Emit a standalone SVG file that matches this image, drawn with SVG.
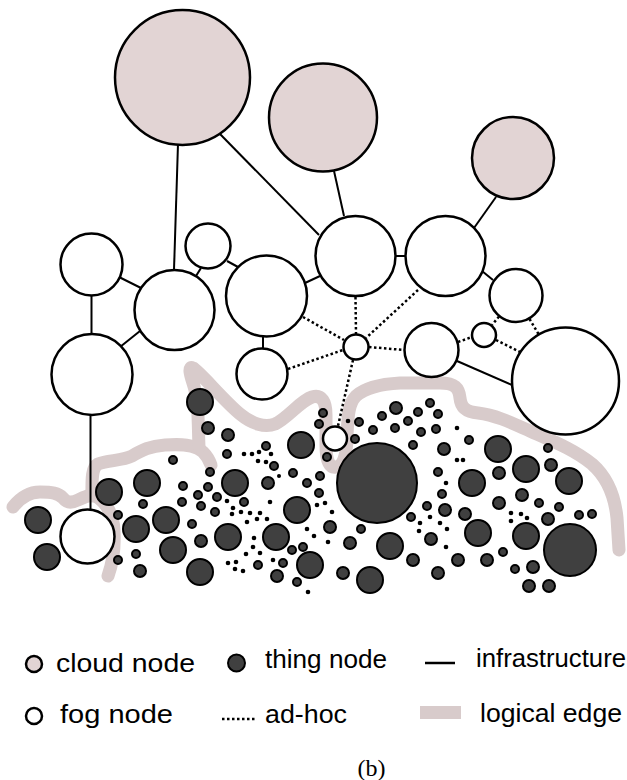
<svg xmlns="http://www.w3.org/2000/svg" width="627" height="780" viewBox="0 0 627 780">
  <style>
    .cloud { fill: #e2d4d4; stroke: #000; stroke-width: 2.5; }
    .fog { fill: #fff; stroke: #000; stroke-width: 2.5; }
    .thing { fill: #404040; stroke: #000; stroke-width: 2; }
    .dot { fill: #000; }
    .infra { stroke: #000; stroke-width: 2; fill: none; }
    .adhoc { stroke: #000; stroke-width: 2.5; stroke-dasharray: 2.5 2.5; fill: none; }
    .logical { fill: none; stroke: #d8cbcb; stroke-width: 13; stroke-linecap: round; stroke-linejoin: round; }
    .lbl { font-family: "Liberation Sans", Arial, sans-serif; font-size: 26px; fill: #000; }
    .cap { font-family: "Liberation Serif", "Times New Roman", serif; font-size: 24px; fill: #000; }
  </style>
  <rect width="627" height="780" fill="#fff"/>

  <!-- logical edge band -->
  <g id="logical-edge">
    <path class="logical" d="M13,507 C20,498 28,492 40,492 C52,492 58,493 63,498 C67,503 72,503 78,500 C84,497 90,494 95,496 C104,500 113,512 114,530 C115,548 112,565 108,576"/>
    <path class="logical" d="M92,496 C92,482 91,468 98,464 C108,460 122,461 132,456 C142,450 150,446 165,445 C180,444 195,444 203,452 C208,457 210,462 211,465"/>
    <path class="logical" d="M199,447 C198,425 199,400 193,383 C190,374 188,366 193,368 C200,372 225,402 240,414 C252,424 265,428 275,424 C288,418 300,401 312,397 C322,394 326,402 326,415 L326,445 C326,462 330,468 336,467 C345,466 347,450 347,435 C348,418 348,404 356,396 C366,387 382,384 400,383 L440,383 C455,383 459,388 460,398 C461,408 466,412 478,413 C495,415 510,422 530,431 C555,442 575,450 592,464 C608,478 615,498 617,518 L619,550"/>
  </g>

  <!-- connectors -->
  <g id="connectors">
    <line class="infra" x1="178" y1="144" x2="174" y2="270"/>
    <line class="infra" x1="220" y1="134" x2="319" y2="235"/>
    <line class="infra" x1="334" y1="171" x2="344" y2="216"/>
    <line class="infra" x1="496" y1="197" x2="474" y2="228"/>
    <line class="infra" x1="119" y1="277" x2="141" y2="288"/>
    <line class="infra" x1="91.5" y1="296" x2="91.5" y2="334"/>
    <line class="infra" x1="120" y1="347" x2="140" y2="331"/>
    <line class="infra" x1="196" y1="276" x2="201" y2="268"/>
    <line class="infra" x1="227" y1="261" x2="238" y2="267"/>
    <line class="infra" x1="305" y1="283" x2="320" y2="276"/>
    <line class="infra" x1="395" y1="256" x2="406" y2="256" stroke-width="3"/>
    <line class="infra" x1="482" y1="271" x2="493" y2="280"/>
    <line class="infra" x1="263" y1="337" x2="263" y2="348"/>
    <line class="infra" x1="457" y1="361" x2="512" y2="385"/>
    <line class="infra" x1="90.5" y1="415" x2="90.5" y2="509"/>

    <line class="adhoc" x1="303" y1="317" x2="344" y2="340"/>
    <line class="adhoc" x1="355.5" y1="297" x2="356" y2="334"/>
    <line class="adhoc" x1="418" y1="290" x2="366" y2="338"/>
    <line class="adhoc" x1="288" y1="369" x2="343" y2="350"/>
    <line class="adhoc" x1="369" y1="347" x2="404" y2="350"/>
    <line class="adhoc" x1="353" y1="360" x2="338" y2="426"/>
    <line class="adhoc" x1="458" y1="342" x2="472" y2="337"/>
    <line class="adhoc" x1="496" y1="340" x2="520" y2="352"/>
    <line class="adhoc" x1="499" y1="316.5" x2="492" y2="325"/>
    <line class="adhoc" x1="529.5" y1="319" x2="538.5" y2="334"/>
  </g>

  <!-- cloud nodes -->
  <g id="cloud1"><circle class="cloud" cx="182.5" cy="77.5" r="67.5"/></g>
  <g id="cloud2"><circle class="cloud" cx="323" cy="117.5" r="54"/></g>
  <g id="cloud3"><circle class="cloud" cx="513" cy="158" r="41"/></g>

  <!-- fog nodes -->
  <g id="fog1"><circle class="fog" cx="91.5" cy="264.5" r="31"/></g>
  <g id="fog2"><circle class="fog" cx="174.5" cy="310" r="40"/></g>
  <g id="fog3"><circle class="fog" cx="208" cy="246" r="22.5"/></g>
  <g id="fog4"><circle class="fog" cx="266.5" cy="296" r="40.5"/></g>
  <g id="fog5"><circle class="fog" cx="355.5" cy="256" r="40"/></g>
  <g id="fog6"><circle class="fog" cx="445.5" cy="256" r="40"/></g>
  <g id="fog7"><circle class="fog" cx="516" cy="295.5" r="26.5"/></g>
  <g id="fog8"><circle class="fog" cx="92" cy="374.5" r="40.5"/></g>
  <g id="fog9"><circle class="fog" cx="262" cy="374" r="25.5"/></g>
  <g id="fog10"><circle class="fog" cx="356" cy="347" r="12.5"/></g>
  <g id="fog11"><circle class="fog" cx="431.5" cy="350" r="27"/></g>
  <g id="fog12"><circle class="fog" cx="484" cy="335" r="12"/></g>
  <g id="fog13"><circle class="fog" cx="565.5" cy="381" r="53.5"/></g>
  <g id="fog14"><circle class="fog" cx="335" cy="438.5" r="12"/></g>
  <g id="fog15"><circle class="fog" cx="87.5" cy="536.5" r="27"/></g>

  <!-- thing nodes: large -->
  <g id="thing-xl1"><circle class="thing" cx="377" cy="483" r="40"/></g>
  <g id="thing-xl2"><circle class="thing" cx="570" cy="550" r="26"/></g>
  <g id="tl1"><circle class="thing" cx="200" cy="402" r="13"/></g>
  <g id="tl2"><circle class="thing" cx="109" cy="492" r="13"/></g>
  <g id="tl3"><circle class="thing" cx="147" cy="483" r="13"/></g>
  <g id="tl4"><circle class="thing" cx="38" cy="520" r="13"/></g>
  <g id="tl5"><circle class="thing" cx="47" cy="557" r="13"/></g>
  <g id="tl6"><circle class="thing" cx="136" cy="529" r="13"/></g>
  <g id="tl7"><circle class="thing" cx="166" cy="520" r="13"/></g>
  <g id="tl8"><circle class="thing" cx="173" cy="550" r="13"/></g>
  <g id="tl9"><circle class="thing" cx="200" cy="572" r="13"/></g>
  <g id="tl10"><circle class="thing" cx="301" cy="445" r="13"/></g>
  <g id="tl11"><circle class="thing" cx="235" cy="483" r="13"/></g>
  <g id="tl12"><circle class="thing" cx="297" cy="510" r="13"/></g>
  <g id="tl13"><circle class="thing" cx="228" cy="537" r="13"/></g>
  <g id="tl14"><circle class="thing" cx="276" cy="537" r="13"/></g>
  <g id="tl15"><circle class="thing" cx="310" cy="565" r="13"/></g>
  <g id="tl16"><circle class="thing" cx="370" cy="580" r="13"/></g>
  <g id="tl17"><circle class="thing" cx="390" cy="546" r="13"/></g>
  <g id="tl18"><circle class="thing" cx="498" cy="449" r="13"/></g>
  <g id="tl19"><circle class="thing" cx="472" cy="483" r="13"/></g>
  <g id="tl20"><circle class="thing" cx="526" cy="469" r="13"/></g>
  <g id="tl21"><circle class="thing" cx="569" cy="481" r="13"/></g>
  <g id="tl22"><circle class="thing" cx="478" cy="533" r="13"/></g>
  <g id="tl23"><circle class="thing" cx="526" cy="536" r="13"/></g>

  <!-- thing nodes: medium -->
  <g id="tm1"><circle class="thing" cx="208" cy="428" r="6"/></g>
  <g id="tm2"><circle class="thing" cx="228" cy="435" r="6"/></g>
  <g id="tm3"><circle class="thing" cx="201" cy="541" r="6"/></g>
  <g id="tm4"><circle class="thing" cx="140" cy="571" r="6"/></g>
  <g id="tm5"><circle class="thing" cx="268" cy="483" r="6"/></g>
  <g id="tm6"><circle class="thing" cx="330" cy="527" r="6"/></g>
  <g id="tm7"><circle class="thing" cx="277" cy="576" r="6"/></g>
  <g id="tm8"><circle class="thing" cx="343" cy="573" r="6"/></g>
  <g id="tm9"><circle class="thing" cx="350" cy="543" r="6"/></g>
  <g id="tm10"><circle class="thing" cx="413" cy="560" r="6"/></g>
  <g id="tm11"><circle class="thing" cx="396" cy="408" r="6"/></g>
  <g id="tm12"><circle class="thing" cx="444" cy="449" r="6"/></g>
  <g id="tm13"><circle class="thing" cx="499" cy="473" r="6"/></g>
  <g id="tm14"><circle class="thing" cx="551" cy="465" r="6"/></g>
  <g id="tm15"><circle class="thing" cx="522" cy="495" r="6"/></g>
  <g id="tm16"><circle class="thing" cx="499" cy="503" r="6"/></g>
  <g id="tm17"><circle class="thing" cx="445" cy="510" r="6"/></g>
  <g id="tm18"><circle class="thing" cx="465" cy="514" r="6"/></g>
  <g id="tm19"><circle class="thing" cx="431" cy="539" r="6"/></g>
  <g id="tm20"><circle class="thing" cx="548" cy="519" r="6"/></g>
  <g id="tm21"><circle class="thing" cx="458" cy="560" r="6"/></g>
  <g id="tm22"><circle class="thing" cx="487" cy="560" r="6"/></g>
  <g id="tm23"><circle class="thing" cx="438" cy="573" r="6"/></g>
  <g id="tm24"><circle class="thing" cx="533" cy="567" r="6"/></g>
  <g id="tm25"><circle class="thing" cx="529" cy="586" r="6"/></g>
  <g id="tm26"><circle class="thing" cx="549" cy="586" r="6"/></g>

  <!-- thing nodes: small -->
  <g id="ts1"><circle class="thing" cx="173" cy="460" r="4"/></g>
  <g id="ts2"><circle class="thing" cx="118" cy="515" r="4"/></g>
  <g id="ts3"><circle class="thing" cx="143" cy="504" r="4"/></g>
  <g id="ts4"><circle class="thing" cx="183" cy="486" r="4"/></g>
  <g id="ts5"><circle class="thing" cx="182" cy="502" r="4"/></g>
  <g id="ts6"><circle class="thing" cx="198" cy="495" r="4"/></g>
  <g id="ts7"><circle class="thing" cx="201" cy="506" r="4"/></g>
  <g id="ts8"><circle class="thing" cx="192" cy="524" r="4"/></g>
  <g id="ts9"><circle class="thing" cx="136" cy="554" r="4"/></g>
  <g id="ts10"><circle class="thing" cx="118" cy="560" r="4"/></g>
  <g id="ts11"><circle class="thing" cx="266" cy="446" r="4"/></g>
  <g id="ts12"><circle class="thing" cx="227" cy="454" r="4"/></g>
  <g id="ts13"><circle class="thing" cx="274" cy="466" r="4"/></g>
  <g id="ts14"><circle class="thing" cx="323" cy="413" r="4"/></g>
  <g id="ts15"><circle class="thing" cx="319" cy="424" r="4"/></g>
  <g id="ts16"><circle class="thing" cx="327" cy="457" r="4"/></g>
  <g id="ts17"><circle class="thing" cx="359" cy="422" r="4"/></g>
  <g id="ts18"><circle class="thing" cx="355" cy="439" r="4"/></g>
  <g id="ts19"><circle class="thing" cx="382" cy="416" r="4"/></g>
  <g id="ts20"><circle class="thing" cx="408" cy="421" r="4"/></g>
  <g id="ts21"><circle class="thing" cx="395" cy="428" r="4"/></g>
  <g id="ts22"><circle class="thing" cx="373" cy="430" r="4"/></g>
  <g id="ts23"><circle class="thing" cx="413" cy="445" r="4"/></g>
  <g id="ts24"><circle class="thing" cx="210" cy="472" r="4"/></g>
  <g id="ts25"><circle class="thing" cx="208" cy="487" r="4"/></g>
  <g id="ts26"><circle class="thing" cx="217" cy="497" r="4"/></g>
  <g id="ts27"><circle class="thing" cx="244" cy="502" r="4"/></g>
  <g id="ts28"><circle class="thing" cx="293" cy="473" r="4"/></g>
  <g id="ts29"><circle class="thing" cx="307" cy="483" r="4"/></g>
  <g id="ts30"><circle class="thing" cx="320" cy="476" r="4"/></g>
  <g id="ts31"><circle class="thing" cx="319" cy="493" r="4"/></g>
  <g id="ts32"><circle class="thing" cx="215" cy="512" r="4"/></g>
  <g id="ts33"><circle class="thing" cx="303" cy="547" r="4"/></g>
  <g id="ts34"><circle class="thing" cx="292" cy="550" r="4"/></g>
  <g id="ts35"><circle class="thing" cx="283" cy="563" r="4"/></g>
  <g id="ts36"><circle class="thing" cx="258" cy="565" r="4"/></g>
  <g id="ts37"><circle class="thing" cx="297" cy="582" r="4"/></g>
  <g id="ts38"><circle class="thing" cx="361" cy="529" r="4"/></g>
  <g id="ts39"><circle class="thing" cx="411" cy="517" r="4"/></g>
  <g id="ts40"><circle class="thing" cx="430" cy="403" r="4"/></g>
  <g id="ts41"><circle class="thing" cx="418" cy="412" r="4"/></g>
  <g id="ts42"><circle class="thing" cx="438" cy="414" r="4"/></g>
  <g id="ts43"><circle class="thing" cx="421" cy="432" r="4"/></g>
  <g id="ts44"><circle class="thing" cx="436" cy="429" r="4"/></g>
  <g id="ts45"><circle class="thing" cx="469" cy="440" r="4"/></g>
  <g id="ts46"><circle class="thing" cx="548" cy="448" r="4"/></g>
  <g id="ts47"><circle class="thing" cx="438" cy="472" r="4"/></g>
  <g id="ts48"><circle class="thing" cx="442" cy="494" r="4"/></g>
  <g id="ts49"><circle class="thing" cx="539" cy="503" r="4"/></g>
  <g id="ts50"><circle class="thing" cx="559" cy="507" r="4"/></g>
  <g id="ts51"><circle class="thing" cx="427" cy="506" r="4"/></g>
  <g id="ts52"><circle class="thing" cx="503" cy="552" r="4"/></g>
  <g id="ts53"><circle class="thing" cx="515" cy="569" r="4"/></g>
  <g id="ts54"><circle class="thing" cx="579" cy="515" r="4"/></g>
  <g id="ts55"><circle class="thing" cx="592" cy="514" r="4"/></g>

  <!-- thing nodes: tiny -->
  <g id="tt1"><circle class="dot" cx="244" cy="454" r="2.3"/></g>
  <g id="tt2"><circle class="dot" cx="252" cy="454" r="2.3"/></g>
  <g id="tt3"><circle class="dot" cx="259" cy="452" r="2.3"/></g>
  <g id="tt4"><circle class="dot" cx="271" cy="454" r="2.3"/></g>
  <g id="tt5"><circle class="dot" cx="258" cy="461" r="2.3"/></g>
  <g id="tt6"><circle class="dot" cx="266" cy="462" r="2.3"/></g>
  <g id="tt7"><circle class="dot" cx="279" cy="476" r="2"/></g>
  <g id="tt8"><circle class="dot" cx="348" cy="421" r="2.3"/></g>
  <g id="tt9"><circle class="dot" cx="227" cy="501" r="2.3"/></g>
  <g id="tt10"><circle class="dot" cx="270" cy="502" r="2.3"/></g>
  <g id="tt11"><circle class="dot" cx="317" cy="505" r="2.3"/></g>
  <g id="tt12"><circle class="dot" cx="325" cy="503" r="2.3"/></g>
  <g id="tt13"><circle class="dot" cx="332" cy="512" r="2.3"/></g>
  <g id="tt14"><circle class="dot" cx="233" cy="508" r="2.3"/></g>
  <g id="tt15"><circle class="dot" cx="241" cy="512" r="2.3"/></g>
  <g id="tt16"><circle class="dot" cx="232" cy="514" r="2.3"/></g>
  <g id="tt17"><circle class="dot" cx="250" cy="513" r="2.3"/></g>
  <g id="tt18"><circle class="dot" cx="260" cy="513" r="2.3"/></g>
  <g id="tt19"><circle class="dot" cx="247" cy="522" r="2.3"/></g>
  <g id="tt20"><circle class="dot" cx="257" cy="519" r="2.3"/></g>
  <g id="tt21"><circle class="dot" cx="267" cy="519" r="2.3"/></g>
  <g id="tt22"><circle class="dot" cx="254" cy="538" r="2.3"/></g>
  <g id="tt23"><circle class="dot" cx="253" cy="547" r="2.3"/></g>
  <g id="tt24"><circle class="dot" cx="260" cy="553" r="2.3"/></g>
  <g id="tt25"><circle class="dot" cx="246" cy="554" r="2.3"/></g>
  <g id="tt26"><circle class="dot" cx="307" cy="529" r="2.3"/></g>
  <g id="tt27"><circle class="dot" cx="314" cy="536" r="2.3"/></g>
  <g id="tt28"><circle class="dot" cx="328" cy="542" r="2.3"/></g>
  <g id="tt29"><circle class="dot" cx="273" cy="560" r="2.3"/></g>
  <g id="tt30"><circle class="dot" cx="228" cy="563" r="2.3"/></g>
  <g id="tt31"><circle class="dot" cx="236" cy="562" r="2.3"/></g>
  <g id="tt32"><circle class="dot" cx="235" cy="569" r="2.3"/></g>
  <g id="tt33"><circle class="dot" cx="243" cy="571" r="2.3"/></g>
  <g id="tt34"><circle class="dot" cx="308" cy="592" r="2.3"/></g>
  <g id="tt35"><circle class="dot" cx="457" cy="428" r="2.3"/></g>
  <g id="tt36"><circle class="dot" cx="457" cy="460" r="2.3"/></g>
  <g id="tt37"><circle class="dot" cx="463" cy="460" r="2.3"/></g>
  <g id="tt38"><circle class="dot" cx="446" cy="483" r="2.3"/></g>
  <g id="tt39"><circle class="dot" cx="430" cy="517" r="2.3"/></g>
  <g id="tt40"><circle class="dot" cx="440" cy="523" r="2.3"/></g>
  <g id="tt41"><circle class="dot" cx="420" cy="523" r="2.3"/></g>
  <g id="tt42"><circle class="dot" cx="419" cy="531" r="2.3"/></g>
  <g id="tt43"><circle class="dot" cx="447" cy="529" r="2.3"/></g>
  <g id="tt44"><circle class="dot" cx="446" cy="547" r="2.3"/></g>
  <g id="tt45"><circle class="dot" cx="511" cy="513" r="2.3"/></g>
  <g id="tt46"><circle class="dot" cx="521" cy="514" r="2.3"/></g>
  <g id="tt47"><circle class="dot" cx="527" cy="518" r="2.3"/></g>
  <g id="tt48"><circle class="dot" cx="511" cy="521" r="2.3"/></g>

  <!-- legend -->
  <g id="legend">
    <circle class="cloud" cx="34" cy="664" r="8" stroke-width="2.5"/>
    <text class="lbl" x="56" y="672" textLength="139" lengthAdjust="spacingAndGlyphs">cloud node</text>
    <circle class="thing" cx="236.5" cy="663" r="8.5" stroke-width="2.5"/>
    <text class="lbl" x="265" y="668" textLength="122" lengthAdjust="spacingAndGlyphs">thing node</text>
    <line x1="425" y1="663" x2="455" y2="663" stroke="#000" stroke-width="2.5"/>
    <text class="lbl" x="476" y="667" textLength="150" lengthAdjust="spacingAndGlyphs">infrastructure</text>
    <circle class="fog" cx="34" cy="716" r="8" stroke-width="2.5"/>
    <text class="lbl" x="60" y="723" textLength="113" lengthAdjust="spacingAndGlyphs">fog node</text>
    <line class="adhoc" x1="222" y1="719" x2="257" y2="719" stroke-width="2" stroke-dasharray="2 2"/>
    <text class="lbl" x="265" y="723" textLength="82" lengthAdjust="spacingAndGlyphs">ad-hoc</text>
    <rect x="420" y="706" width="41" height="13" fill="#d8cbcb"/>
    <text class="lbl" x="480" y="722" textLength="142" lengthAdjust="spacingAndGlyphs">logical edge</text>
    <text class="cap" x="371.5" y="776" text-anchor="middle">(b)</text>
  </g>
</svg>
